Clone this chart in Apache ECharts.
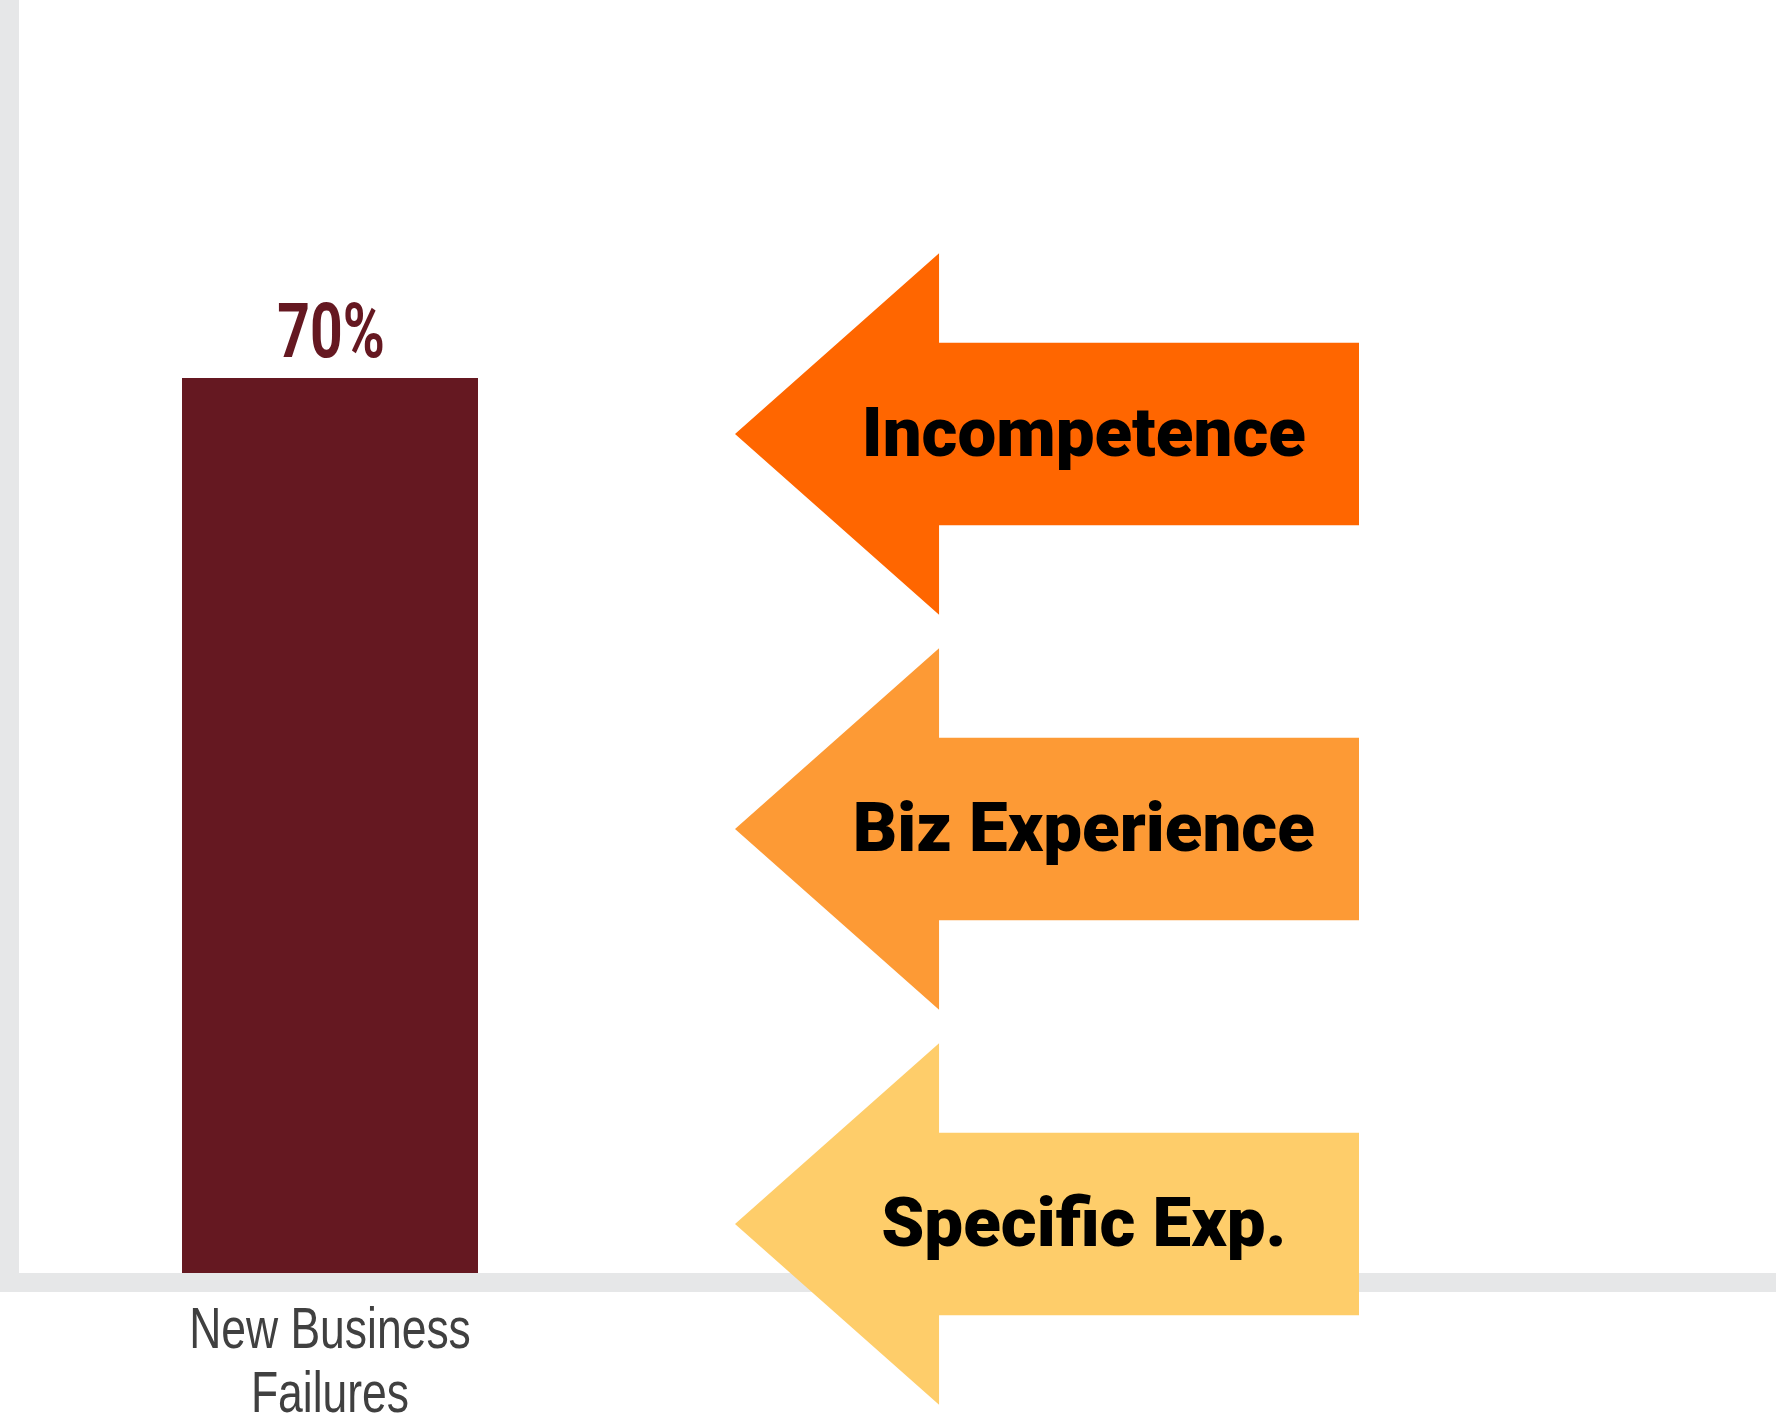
<!DOCTYPE html>
<html>
<head>
<meta charset="utf-8">
<script src="https://cdn.jsdelivr.net/npm/echarts@6/dist/echarts.min.js"></script>
<style>
html,body{margin:0;padding:0;background:#fff;}
#chart{width:1776px;height:1413px;}
</style>
</head>
<body>
<div id="chart"></div>
<script>
// ---- data ----
const categories = ['New Business\nFailures'];
const values = [70];
const arrowLabels = ['Incompetence', 'Biz Experience', 'Specific Exp.'];

// ---- styles ----
const barColor = '#651821';
const axisGray = '#e6e7e8';
const arrowColors = ['#FF6600', '#FD9A35', '#FECD6A'];

const chart = echarts.init(document.getElementById('chart'), null, {renderer: 'canvas'});

const option = {
  backgroundColor: '#ffffff',
  animation: false,
  grid: [
    {left: 9.5, width: 641, top: 0, bottom: 130.5, containLabel: false},
    {left: 0, right: 0, top: 0, bottom: 130.5, containLabel: false},
    {left: 735, right: 417, top: 434, height: 790, containLabel: false}
  ],
  xAxis: [
    {
      type: 'category', gridIndex: 0, data: categories,
      axisLine: {show: false}, axisTick: {show: false},
      axisLabel: {show: false}
    },
    {
      type: 'category', gridIndex: 1, data: [''], z: 5,
      axisLine: {show: true, lineStyle: {color: axisGray, width: 19}},
      axisTick: {show: false}, axisLabel: {show: false}
    },
    {
      type: 'value', gridIndex: 2, min: 0, max: 1, show: false
    }
  ],
  yAxis: [
    {
      type: 'value', gridIndex: 0, min: 0, max: 99.25, z: 5,
      axisLine: {show: true, lineStyle: {color: axisGray, width: 19}},
      axisTick: {show: false}, axisLabel: {show: false}, splitLine: {show: false}
    },
    {
      type: 'value', gridIndex: 1, min: 0, max: 100, show: false, splitLine: {show: false}
    },
    {
      type: 'category', gridIndex: 2, data: arrowLabels, inverse: true,
      boundaryGap: false, show: false
    }
  ],
  series: [
    {
      type: 'bar', xAxisIndex: 0, yAxisIndex: 0, data: values,
      barWidth: 296, z: 2,
      itemStyle: {color: barColor},
      label: {show: false}
    },
    {
      // value label + category label, drawn in a condensed style at the bar's axis positions
      type: 'custom', xAxisIndex: 0, yAxisIndex: 0, z: 6,
      data: values.map((v, i) => [i, v]),
      encode: {x: 0, y: 1},
      renderItem: function (params, api) {
        const i = api.value(0);
        const top = api.coord([i, api.value(1)]);
        const base = api.coord([i, 0]);
        return {
          type: 'group',
          children: [
            {
              type: 'text',
              x: top[0] + 1, y: top[1] - 40,
              scaleX: 0.75, scaleY: 1,
              style: {
                x: 0, y: 0,
                text: api.value(1) + '%',
                align: 'center', verticalAlign: 'middle',
                fill: barColor,
                font: 'bold 76px Roboto, sans-serif'
              }
            },
            {
              type: 'text',
              x: base[0], y: base[1] + 82,
              scaleX: 0.78, scaleY: 1,
              style: {
                x: 0, y: 0,
                text: categories[i],
                align: 'center', verticalAlign: 'middle',
                lineHeight: 64,
                fill: '#404040',
                font: '57px "Liberation Sans", Arial, sans-serif'
              }
            }
          ]
        };
      }
    },
    {
      type: 'custom', xAxisIndex: 2, yAxisIndex: 2, z: 20,
      data: arrowLabels.map((name, i) => ({name: name, value: [i]})),
      encode: {y: 0},
      renderItem: function (params, api) {
        const idx = api.value(0);
        const p0 = api.coord([0, idx]);
        const p1 = api.coord([1, idx]);
        const band = api.size([0, 1])[1];
        const tipX = p0[0], endX = p1[0], cy = p0[1];
        const headBase = tipX + (endX - tipX) * 0.327;
        const hh = band * 0.4575;
        const sh = band * 0.231;
        const textX = tipX + (endX - tipX) * 0.559;
        return {
          type: 'group',
          children: [
            {
              type: 'polygon',
              shape: {points: [
                [tipX, cy], [headBase, cy - hh], [headBase, cy - sh],
                [endX, cy - sh], [endX, cy + sh], [headBase, cy + sh],
                [headBase, cy + hh]
              ]},
              style: {fill: arrowColors[idx % arrowColors.length]}
            },
            {
              type: 'text',
              style: {
                x: textX, y: cy + 5,
                text: arrowLabels[idx],
                align: 'center', verticalAlign: 'middle',
                fill: '#000000',
                font: '900 69px Roboto, "Noto Sans", sans-serif'
              }
            }
          ]
        };
      }
    }
  ]
};

chart.setOption(option);
</script>
</body>
</html>
